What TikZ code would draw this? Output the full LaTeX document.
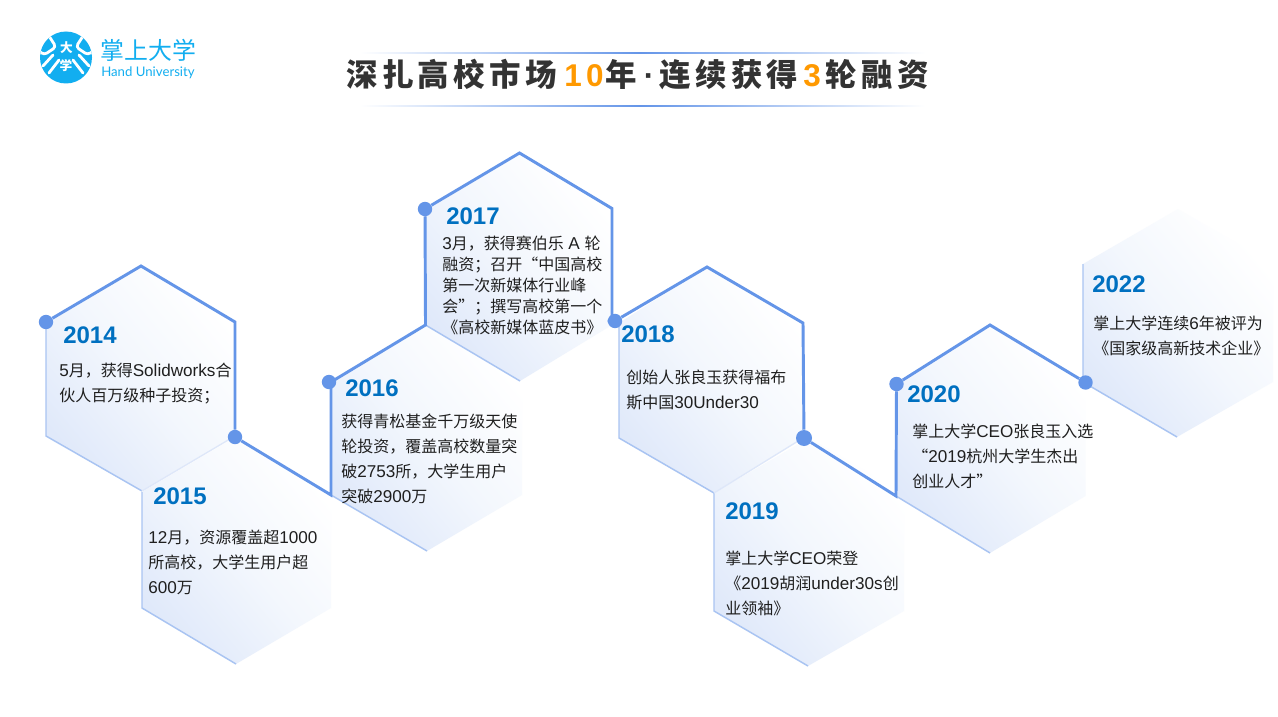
\documentclass[tikz,border=0pt]{standalone}
\usepackage{fontspec}
\setmainfont{Liberation Sans}
\newfontfamily\cjk{Noto Sans CJK SC}
\newfontfamily\cjkt[LetterSpace=14]{Noto Sans CJK SC}
\newfontfamily\latt[LetterSpace=14]{Liberation Sans}
\newfontfamily\lat[Scale=1.07]{Liberation Sans}
\newfontfamily\laty{Liberation Sans}
\newfontfamily\lato{Lato}
\definecolor{linec}{HTML}{6495E8}
\definecolor{lightc}{HTML}{A9C4F2}
\definecolor{faintc}{HTML}{DEE7F9}
\definecolor{fillc}{HTML}{E0E9FA}
\definecolor{fillm}{HTML}{F3F7FD}
\definecolor{yearc}{HTML}{0070C0}
\definecolor{bodyc}{HTML}{1F1F1F}
\definecolor{titlec}{HTML}{333333}
\definecolor{orangec}{HTML}{FF9900}
\definecolor{logoc}{HTML}{12AEF0}
\newcommand{\hexa}[9]{%
  % name, xl, xm, xr, yt, yu, yl, yb, xb
  \coordinate (#1-t) at (#3,#5);
  \coordinate (#1-ur) at (#4,#6);
  \coordinate (#1-lr) at (#4,#7);
  \coordinate (#1-b) at (#9,#8);
  \coordinate (#1-ll) at (#2,#7);
  \coordinate (#1-ul) at (#2,#6);
  \path[hexfill] (#1-t) -- (#1-ur) -- (#1-lr) -- (#1-b) -- (#1-ll) -- (#1-ul) -- cycle;
  \draw[lightedge] (#1-ul) -- (#1-ll) -- (#1-b);
}
\tikzset{
  hexfill/.style={shade,top color=white,bottom color=fillc,middle color=fillm,shading angle=-50},
  lightedge/.style={draw=lightc,line width=1.1pt,line join=miter},
  faintedge/.style={draw=faintc,line width=1pt},
  mainline/.style={draw=linec,line width=2.2pt,line join=miter},
  dot/.style={circle,fill=linec,inner sep=0pt,minimum size=10.8pt},
  bigdot/.style={dot,minimum size=12pt},
  year/.style={anchor=west,inner sep=0pt,text=yearc,font=\laty\bfseries\fontsize{18}{18}\selectfont},
  body/.style={anchor=north west,inner sep=0pt,align=left,text=bodyc,font=\cjk\fontsize{12}{18.75}\selectfont},
  bodytight/.style={body,font=\cjk\fontsize{12}{15.75}\selectfont},
  stripe/.style={draw=white,line width=2.1pt,line cap=round,line join=round,rounded corners=2.5pt},
}
\begin{document}
\begin{tikzpicture}[x=0.75pt,y=-0.75pt]
\useasboundingbox (0,0) rectangle (1278,717);
\fill[white] (0,0) rectangle (1278,717);
% logo
\node[circle,fill=logoc,inner sep=0pt,minimum size=39pt] (logo) at (66,57.5) {};
\begin{scope}
\clip (66,57.5) circle (26);
\draw[stripe] (49,36) -- (56,47) -- (44,55) -- (38,50);
\draw[stripe] (53,55) -- (43,66);
\draw[stripe] (59,60) -- (49,73);
\draw[stripe] (83,36) -- (76,47) -- (88,55) -- (94,50);
\draw[stripe] (79,55) -- (89,66);
\draw[stripe] (73,60) -- (83,73);
\end{scope}
\node[inner sep=0pt,text=white,font=\cjk\bfseries\fontsize{9.5}{9.5}\selectfont] (lg1) at (66.5,47.5) {大};
\node[inner sep=0pt,text=white,font=\cjk\bfseries\fontsize{9.5}{9.5}\selectfont] (lg2) at (66,65.5) {学};
\node[anchor=west,inner sep=0pt,text=logoc,font=\cjk\fontsize{17.9}{17.9}\selectfont] (lgname) at (100.5,50.5) {掌上大学};
\node[anchor=west,inner sep=0pt,text=logoc,font=\lato\fontsize{9.9}{9.9}\selectfont] (lgen) at (101,73) {Hand University};
% title
\shade[left color=white,right color=linec] (360,52.6) rectangle (640,54);
\shade[left color=linec,right color=white] (640,52.6) rectangle (925,54);
\shade[left color=white,right color=linec] (360,105.6) rectangle (640,107);
\shade[left color=linec,right color=white] (640,105.6) rectangle (925,107);
\node[anchor=center,inner sep=0pt,text=titlec,font=\cjkt\bfseries\fontsize{23.6}{23.6}\selectfont] (title) at (637.5,75)
  {深扎高校市场\hspace{5.5pt}{\latt\bfseries\color{orangec}10}\hspace{1.5pt}年\hspace{5pt}{\latt\bfseries ·}\hspace{3.75pt}连续获得\hspace{3.75pt}{\latt\bfseries\color{orangec}3}\hspace{3.5pt}轮融资};
% hexagons
\hexa{h14}{46}{141}{235}{266}{322}{436}{491}{142}
\hexa{h15}{142}{236}{331}{437}{492}{608}{664}{236}
\hexa{h16}{331}{427}{522}{325}{382}{495}{551}{427}
\hexa{h17}{425.5}{519.5}{612}{153}{208.5}{325}{381}{520}
\hexa{h18}{619}{707}{803}{267}{323}{438}{493}{714}
\hexa{h19}{714}{809}{904}{438}{493}{611}{666}{808}
\hexa{h20}{896}{990}{1085.5}{325}{383}{496}{553}{990}
\hexa{h22}{1083}{1178}{1273}{209}{264}{382}{437}{1177}
\draw[faintedge] (h14-b) -- (h14-lr);
\draw[faintedge] (h18-b) -- (h18-lr);
% dots
\node[dot] (d14) at (46,322) {};
\node[dot] (d15) at (235,437) {};
\node[dot] (d16) at (329,382) {};
\node[dot] (d17) at (425,209) {};
\node[dot] (d18) at (615,321) {};
\node[bigdot] (d19) at (804,438) {};
\node[dot] (d20) at (896.5,384) {};
\node[dot] (d22) at (1085.5,382.5) {};
% connectors
\draw[mainline] (d14) -- (h14-t) -- (h14-ur) -- (d15);
\draw[mainline] (d15) -- (h15-lr |- h16-ll) -- (h16-ul) -- (h17-ll) -- (d17);
\draw[mainline] (d17) -- (h17-t) -- (h17-ur) -- (h17-ur |- d18) -- (d18);
\draw[mainline] (d18) -- (h18-t) -- (h18-ur) -- (d19);
\draw[mainline] (d19) -- (h20-ll) -- (d20);
\draw[mainline] (d20) -- (h20-t) -- (d22);
% years
\node[year] (y14) at (63,335) {2014};
\node[year] (y15) at (153,496) {2015};
\node[year] (y16) at (345,388) {2016};
\node[year] (y17) at (446,216) {2017};
\node[year] (y18) at (621,334) {2018};
\node[year] (y19) at (725,511) {2019};
\node[year] (y20) at (907,394) {2020};
\node[year] (y22) at (1092,284) {2022};
% bodies
\node[body] (t14) at (59,363) {{\lat 5}月，获得{\lat Solidworks}合\\伙人百万级种子投资；};
\node[body] (t15) at (148,530) {{\lat 12}月，资源覆盖超{\lat 1000}\\所高校，大学生用户超\\{\lat 600}万};
\node[body] (t16) at (341,414) {获得青松基金千万级天使\\轮投资，覆盖高校数量突\\破{\lat 2753}所，大学生用户\\突破{\lat 2900}万};
\node[bodytight] (t17) at (442,236) {{\lat 3}月，获得赛伯乐\hspace{3.5pt}{\lat A}\hspace{3.5pt}轮\\融资；召开“中国高校\\第一次新媒体行业峰\\会”；撰写高校第一个\\《高校新媒体蓝皮书》};
\node[body] (t18) at (626,370) {创始人张良玉获得福布\\斯中国{\lat 30Under30}};
\node[body] (t19) at (725,551) {掌上大学{\lat CEO}荣登\\《{\lat 2019}胡润{\lat under30s}创\\业领袖》};
\node[body] (t20) at (912,424) {掌上大学{\lat CEO}张良玉入选\\“{\lat 2019}杭州大学生杰出\\创业人才”};
\node[body] (t22) at (1093,316) {掌上大学连续{\lat 6}年被评为\\《国家级高新技术企业》};
\end{tikzpicture}
\end{document}
